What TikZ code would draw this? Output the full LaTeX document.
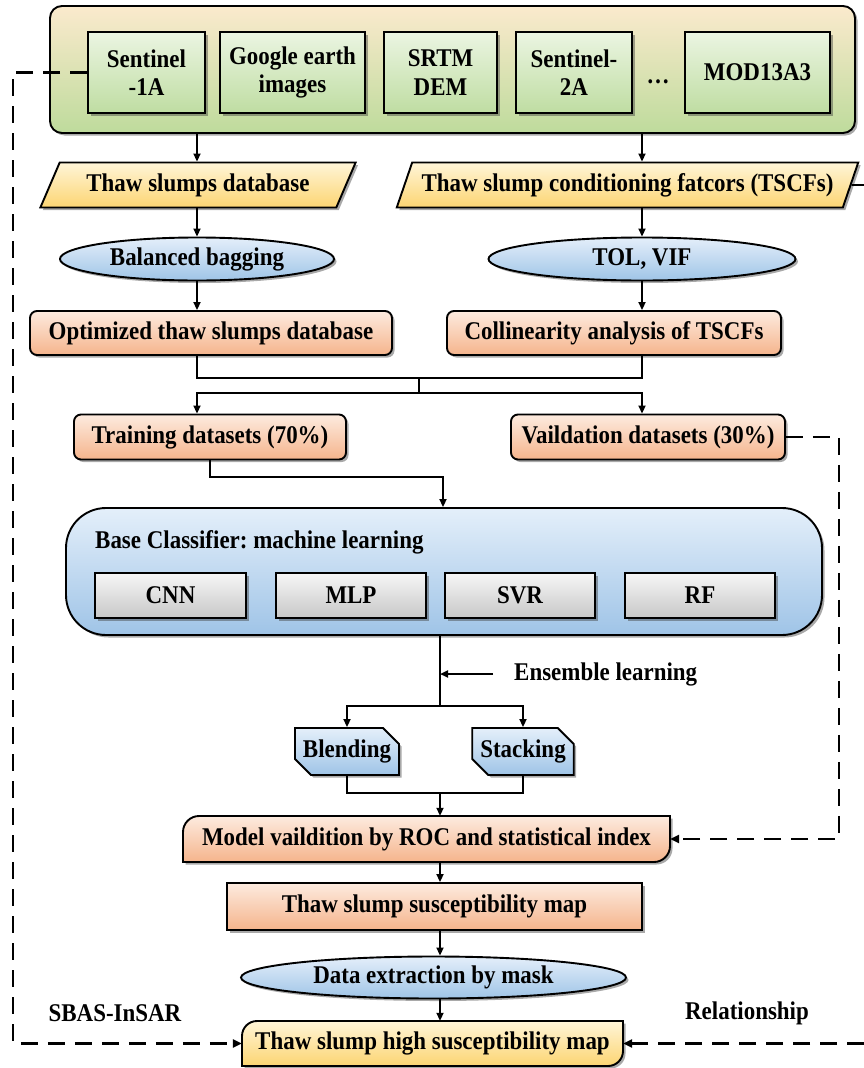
\documentclass[tikz,border=0pt]{standalone}
\usepackage{fontspec}
\setmainfont[FakeStretch=0.9]{Liberation Serif}
\usetikzlibrary{arrows.meta,shapes.geometric,shapes.misc,shadows}
\definecolor{or1}{HTML}{FDEBDF}
\definecolor{or2}{HTML}{F5B48C}
\definecolor{ye1}{HTML}{FFF5D8}
\definecolor{ye2}{HTML}{FCD572}
\definecolor{bl1}{HTML}{E4EFFA}
\definecolor{bl2}{HTML}{9FC4E7}
\definecolor{gr1}{HTML}{F6F6F6}
\definecolor{gr2}{HTML}{C8C8C8}
\definecolor{gn1}{HTML}{EBF5E2}
\definecolor{gn2}{HTML}{BFDDA2}
\definecolor{ot1}{HTML}{FBEACD}
\definecolor{ot2}{HTML}{E8EEC8}
\definecolor{ot3}{HTML}{BEDB9C}
\frenchspacing
\begin{document}
\begin{tikzpicture}[x=1pt,y=-1pt,
  every node/.style={font=\fontsize{25.5}{28.5}\selectfont\bfseries, inner sep=0pt, align=center},
  shad/.style={drop shadow={shadow xshift=2.5pt,shadow yshift=-2.5pt,opacity=0.45,fill=black!75}},
  outl/.style={draw=black,line width=1.9pt},
  orbox/.style={outl,shad,rounded corners=7pt,top color=or1,bottom color=or2},
  orfill/.style={top color=or1,bottom color=or2},
  yefill/.style={top color=ye1,bottom color=ye2},
  para/.style={outl,shad,shape=trapezium,trapezium stretches=true,top color=ye1,bottom color=ye2},
  ell/.style={outl,shad,shape=ellipse,top color=bl1,bottom color=bl2},
  grbox/.style={outl,shad,top color=gr1,bottom color=gr2,minimum height=45pt,minimum width=150pt},
  gnbox/.style={outl,shad,top color=gn1,bottom color=gn2,minimum height=81pt},
  chbox/.style={outl,shad,shape=chamfered rectangle,chamfered rectangle corners={north east,south west},chamfered rectangle sep=8pt,top color=bl1,bottom color=bl2,minimum width=100pt,minimum height=47pt},
  conn/.style={line width=1.9pt,-{Triangle[length=8pt,width=7pt]}},
  plainline/.style={line width=1.9pt},
  dashconn/.style={line width=2.3pt,dash pattern=on 17pt off 10pt,-{Triangle[length=9pt,width=8pt]}}
]
\useasboundingbox (0,0) rectangle (864,1068);
% column references
\coordinate (xl) at (197,0);
\coordinate (xr) at (642,0);
\coordinate (xc) at (440,0);
% top source box
\node[outl,shad,rounded corners=12pt,top color=ot1,middle color=ot2,bottom color=ot3,minimum width=805pt,minimum height=127pt] (src) at (452.5,69.5) {};
\node[gnbox,minimum width=117pt] (s1) at (146.5,72.5) {Sentinel\\-1A};
\node[gnbox,minimum width=145pt] (ge) at (292.5,72.5) {Google earth\\images};
\node[gnbox,minimum width=113pt] (srtm) at (440.5,72.5) {SRTM\\DEM};
\node[gnbox,minimum width=116pt] (s2) at (574,72.5) {Sentinel-\\2A};
\node (dots) at (658,82) {…};
\node[gnbox,minimum width=145pt] (mod) at (757.5,72.5) {MOD13A3};
% parallelograms
\node[para,trapezium left angle=56,trapezium right angle=124,minimum width=316pt,minimum height=45pt] (tsd) at (198,185) {Thaw slumps database};
\node[para,trapezium left angle=58,trapezium right angle=122,minimum width=463pt,minimum height=45pt] (tscf) at (627.5,185) {Thaw slump conditioning fatcors (TSCFs)};
\draw[conn] (src.south -| xl) -- (tsd.north -| xl);
\draw[conn] (src.south -| xr) -- (tscf.north -| xr);
\coordinate (tc) at (864,185);
\draw[plainline] (tscf.east) -- (tc);
% ellipses
\node[ell,minimum width=274pt,minimum height=43pt] (bb) at (197,259) {Balanced bagging};
\node[ell,minimum width=307pt,minimum height=43pt] (tv) at (642,259) {TOL, VIF};
\draw[conn] (tsd.south -| xl) -- (bb.north);
\draw[conn] (tscf.south -| xr) -- (tv.north);
% orange row
\node[orbox,minimum width=362pt,minimum height=44pt] (otd) at (211,333) {Optimized thaw slumps database};
\node[orbox,minimum width=334pt,minimum height=44pt] (col) at (614,333) {Collinearity analysis of TSCFs};
\draw[conn] (bb.south) -- (otd.north -| xl);
\draw[conn] (tv.south) -- (col.north -| xr);
% merge
\coordinate (m1) at (419,378);
\coordinate (m2) at (419,393);
\draw[plainline] (otd.south -| xl) |- (m1);
\draw[plainline] (col.south -| xr) |- (m1);
\draw[plainline] (m1) -- (m2);
% datasets
\node[orbox,minimum width=272pt,minimum height=45pt] (tr) at (210,437) {Training datasets (70\%)};
\node[orbox,minimum width=274pt,minimum height=45pt] (va) at (648,437) {Vaildation datasets (30\%)};
\draw[conn] (m2) -| (tr.north -| xl);
\draw[conn] (m2) -| (va.north -| xr);
% base classifier
\node[outl,shad,rounded corners=40pt,top color=bl1,bottom color=bl2,minimum width=756pt,minimum height=127pt] (bc) at (444,571.5) {};
\node[anchor=west] (bct) at (95,542) {Base Classifier: machine learning};
\node[grbox,minimum width=151pt] (cnn) at (170.5,595.5) {CNN};
\node[grbox] (mlp) at (351,595.5) {MLP};
\node[grbox] (svr) at (520,595.5) {SVR};
\node[grbox] (rf) at (700,595.5) {RF};
\coordinate (t1) at (443,477);
\draw[conn] (tr.south) |- (t1) -- (bc.north -| t1);
% ensemble
\coordinate (br) at (440,706);
\draw[plainline] (bc.south -| xc) -- (br);
\coordinate (ens) at (493,674);
\draw[conn] (ens) -- (ens -| xc);
\node[anchor=west] (enl) at (514,674) {Ensemble learning};
\node[chbox] (bl) at (347,751.5) {Blending};
\node[chbox] (st) at (523,751.5) {Stacking};
\draw[conn] (br) -| (bl.north);
\draw[conn] (br) -| (st.north);
\coordinate (j1) at (440,793);
\draw[plainline] (bl.south) |- (j1);
\draw[plainline] (st.south) |- (j1);
% model validation
\path[outl,shad,orfill] (183,862) -- (183,832) .. controls (183,823.2) and (190.2,816) .. (199,816) -- (670,816) -- (670,846) .. controls (670,854.8) and (662.8,862) .. (654,862) -- cycle;
\node[minimum width=487pt,minimum height=46pt] (mv) at (426.5,839) {Model vaildition by ROC and statistical index};
\draw[conn] (j1) -- (mv.north -| xc);
\coordinate (vc) at (839,839);
\draw[dashconn] (va.east) -| (vc) -- (mv.east);
% susceptibility map
\node[outl,shad,orfill,minimum width=415pt,minimum height=47pt] (tsm) at (434.5,906.5) {Thaw slump susceptibility map};
\draw[conn] (mv.south -| xc) -- (tsm.north -| xc);
\node[ell,minimum width=385pt,minimum height=42pt] (de) at (433.5,977.5) {Data extraction by mask};
\draw[conn] (tsm.south -| xc) -- (de.north -| xc);
% high susceptibility
\path[outl,shad,yefill] (242,1066) -- (242,1036) .. controls (242,1027.7) and (248.7,1021) .. (257,1021) -- (623,1021) -- (623,1051) .. controls (623,1059.3) and (616.3,1066) .. (608,1066) -- cycle;
\node[minimum width=381pt,minimum height=45pt] (hm) at (432.5,1043.5) {Thaw slump high susceptibility map};
\draw[conn] (de.south -| xc) -- (hm.north -| xc);
\node (sbas) at (115,1013) {SBAS-InSAR};
\node (rel) at (747,1013) {Relationship};
\coordinate (lc) at (13,1043.5);
\draw[dashconn] (s1.west) -| (lc) -- (hm.west);
\coordinate (rc) at (864,1043.5);
\draw[dashconn] (rc) -- (hm.east);
\end{tikzpicture}
\end{document}
